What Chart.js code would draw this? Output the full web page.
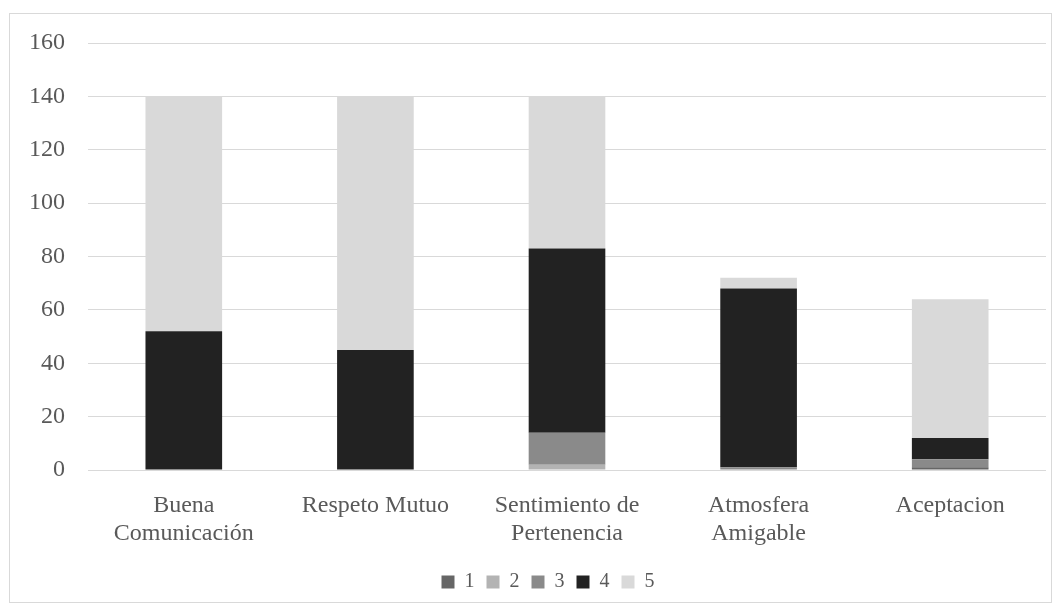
<!DOCTYPE html>
<html>
<head>
<meta charset="utf-8">
<script src="https://cdn.jsdelivr.net/npm/chart.js@4/dist/chart.umd.min.js"></script>
<style>
  body { margin: 0; background: #fff; }
  #wrap {
    position: absolute; left: 9px; top: 13px;
    width: 1041px; height: 588px;
    border: 1px solid #d9d9d9;
  }
</style>
</head>
<body>
<div id="wrap"><canvas id="chart"></canvas></div>
<script>
const categories = [
  ['Buena', 'Comunicación'],
  'Respeto Mutuo',
  ['Sentimiento de', 'Pertenencia'],
  ['Atmosfera', 'Amigable'],
  'Aceptacion'
];
const seriesNames = ['1', '2', '3', '4', '5'];
const s1 = [0, 0, 0, 0, 1];
const s2 = [0, 0, 2, 0, 0];
const s3 = [0, 0, 12, 1, 3];
const s4 = [52, 45, 69, 67, 8];
const s5 = [88, 95, 57, 4, 52];
const colors = ['#666666', '#b3b3b3', '#8a8a8a', '#222222', '#d9d9d9'];

const family = "'Liberation Serif', serif";

// legend sits a bit right of centre in the original
const shiftLegend = {
  id: 'shiftLegend',
  afterLayout: (c) => { c.legend.left += 20; c.legend.right += 20; }
};

const chart = new Chart(document.querySelector('#chart'), {
  type: 'bar',
  data: {
    labels: categories,
    datasets: [s1, s2, s3, s4, s5].map((d, i) => ({
      label: seriesNames[i],
      data: d,
      backgroundColor: colors[i],
      borderWidth: 0,
      barPercentage: 0.4,
      categoryPercentage: 1
    }))
  },
  plugins: [shiftLegend],
  options: {
    responsive: true,
    maintainAspectRatio: false,
    animation: false,
    layout: { padding: { left: 0, right: 5, top: 29, bottom: 0 } },
    plugins: {
      legend: {
        position: 'bottom',
        labels: {
          boxWidth: 13, boxHeight: 13, padding: 12, color: '#595959',
          font: { family, size: 20, lineHeight: 1 }
        }
      },
      tooltip: { enabled: false }
    },
    scales: {
      x: {
        stacked: true,
        grid: { display: false },
        border: { display: false },
        ticks: { color: '#595959', font: { family, size: 24, lineHeight: 1.2 }, padding: 13, maxRotation: 0 },
        afterFit: (s) => { s.height = 90; }
      },
      y: {
        stacked: true,
        min: 0,
        max: 160,
        grid: { color: '#d9d9d9', lineWidth: 1, drawTicks: false },
        border: { display: false },
        ticks: { stepSize: 20, color: '#595959', font: { family, size: 24 }, padding: 23 },
        afterFit: (s) => { s.width = 78; s.paddingTop = 0; s.paddingBottom = 0; }
      }
    }
  }
});
</script>
</body>
</html>
